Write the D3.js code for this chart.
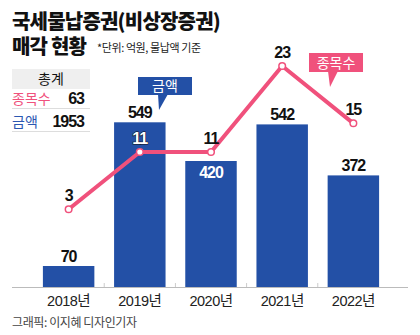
<!DOCTYPE html>
<html><head><meta charset="utf-8">
<script src="https://cdn.jsdelivr.net/npm/d3@7"></script>
<style>
body{margin:0;background:#fff;}
text{font-family:"Noto Sans CJK KR","Noto Sans",sans-serif;}
.num{font-family:"Liberation Sans",Arial,sans-serif;font-weight:bold;}
</style></head>
<body>
<svg id="c" width="420" height="335"></svg>
<script>
const years = ["2018년","2019년","2020년","2021년","2022년"];
const amounts = [70, 549, 420, 542, 372];
const counts = [3, 11, 11, 23, 15];
const totalLabels = ["종목수","금액"];
const totalValues = [63, 1953];
const title1 = "국세물납증권(비상장증권)";
const title2 = "매각 현황";
const unitNote = "*단위: 억원, 물납액 기준";
const credit = "그래픽: 이지혜 디자인기자";

const BLUE = "#2350a6", PINK = "#f0517c";
const svg = d3.select("#c");

// titles
svg.append("text").attr("x",12).attr("y",29).attr("font-size",20).attr("font-weight",900)
  .attr("letter-spacing",-0.8).attr("fill","#111").text(title1);
svg.append("text").attr("x",12).attr("y",54).attr("font-size",20).attr("font-weight",900)
  .attr("letter-spacing",-0.8).attr("fill","#111").text(title2);
svg.append("text").attr("x",97).attr("y",52).attr("font-size",11).attr("letter-spacing",-0.4)
  .attr("fill","#222").text(unitNote);

// scales
const x = d3.scaleBand().domain(years).range([13,409]).paddingInner(0.277).paddingOuter(0.42);
const yBar = d3.scaleLinear().domain([0,549]).range([287,122.3]);
const yLine = d3.scaleLinear().domain([0,23]).range([230.8,66]);

// axis
const axis = d3.axisBottom(x).tickSize(0).tickPadding(9);
const ag = svg.append("g").attr("transform","translate(0,287)").call(axis);
ag.select(".domain").remove();
ag.selectAll("text").attr("font-size",14.5).attr("fill","#222").attr("letter-spacing",-0.5)
  .style("font-family","'Liberation Sans','Noto Sans CJK KR',sans-serif");
svg.append("line").attr("x1",12).attr("x2",408).attr("y1",287.5).attr("y2",287.5)
  .attr("stroke","#bbb").attr("stroke-width",1);
// separators between bands
svg.selectAll(".sep").data(years.slice(1)).join("line")
  .attr("x1",d=>x(d)-x.step()*x.paddingInner()/2).attr("x2",d=>x(d)-x.step()*x.paddingInner()/2)
  .attr("y1",283).attr("y2",287).attr("stroke","#ccc");

// bars
svg.selectAll(".bar").data(amounts).join("rect")
  .attr("x",(d,i)=>x(years[i])).attr("width",x.bandwidth())
  .attr("y",d=>yBar(d)).attr("height",d=>yBar(0)-yBar(d)).attr("fill",BLUE);

// bar labels
const inside = [false,false,true,false,false];
svg.selectAll(".bl").data(amounts).join("text").attr("class","num")
  .attr("x",(d,i)=>x(years[i])+x.bandwidth()/2)
  .attr("y",(d,i)=>inside[i]? yBar(d)+17 : yBar(d)-4)
  .attr("text-anchor","middle").attr("font-size",16).attr("letter-spacing",-1)
  .attr("fill",(d,i)=>inside[i]?"#fff":"#111").text(d=>d);

// line
const line = d3.line().x((d,i)=>x(years[i])+x.bandwidth()/2).y(d=>yLine(d));
svg.append("path").datum(counts).attr("d",line).attr("fill","none")
  .attr("stroke",PINK).attr("stroke-width",4).attr("stroke-linejoin","round");
svg.selectAll(".pt").data(counts).join("circle")
  .attr("cx",(d,i)=>x(years[i])+x.bandwidth()/2).attr("cy",d=>yLine(d)).attr("r",3.3)
  .attr("fill","#fff").attr("stroke",PINK).attr("stroke-width",1.5);
const onBar = [false,true,false,false,false];
svg.selectAll(".ll").data(counts).join("text").attr("class","num")
  .attr("x",(d,i)=>x(years[i])+x.bandwidth()/2).attr("y",d=>yLine(d)-8)
  .attr("text-anchor","middle").attr("font-size",16).attr("letter-spacing",-1)
  .attr("fill",(d,i)=>onBar[i]?"#fff":"#111")
  .attr("stroke",(d,i)=>onBar[i]?"#111":"none").attr("stroke-width",1)
  .attr("paint-order","stroke")
  .text(d=>d);

// callouts
function callout(bx,by,bw,bh,tail,color,label){
  svg.append("path").attr("d",`M${tail[0]},${by+bh-1}L${tail[1]},${by+bh-1}L${tail[2]},${tail[3]}Z`).attr("fill",color);
  svg.append("rect").attr("x",bx).attr("y",by).attr("width",bw).attr("height",bh).attr("fill",color);
  svg.append("text").attr("x",bx+bw/2).attr("y",by+bh/2+5).attr("text-anchor","middle")
    .attr("font-size",14).attr("fill","#fff").text(label);
}
callout(138,77,54,18,[158,168,159,110],BLUE,"금액");
callout(309,53,54,19,[328,338,330,87],PINK,"종목수");

// totals table
svg.append("rect").attr("x",12).attr("y",69).attr("width",78).attr("height",20).attr("fill","#efefef");
svg.append("text").attr("x",51).attr("y",84).attr("text-anchor","middle").attr("font-size",14)
  .attr("fill","#111").text("총계");
const rowY = [104, 127];
const rowColor = [PINK, "#2b57b2"];
totalLabels.forEach((l,i)=>{
  svg.append("text").attr("x",12).attr("y",rowY[i]).attr("font-size",14).attr("fill",rowColor[i]).text(l);
  svg.append("text").attr("class","num").attr("x",84).attr("y",rowY[i]).attr("text-anchor","end")
    .attr("font-size",16).attr("letter-spacing",-1).attr("fill","#111").text(totalValues[i]);
});
[108.5,131.5].forEach(yy=>svg.append("line").attr("x1",12).attr("x2",90).attr("y1",yy).attr("y2",yy)
  .attr("stroke","#ddd"));

// credit
svg.append("text").attr("x",12).attr("y",327).attr("font-size",12).attr("letter-spacing",-0.4)
  .attr("fill","#444").text(credit);
</script>
</body></html>
